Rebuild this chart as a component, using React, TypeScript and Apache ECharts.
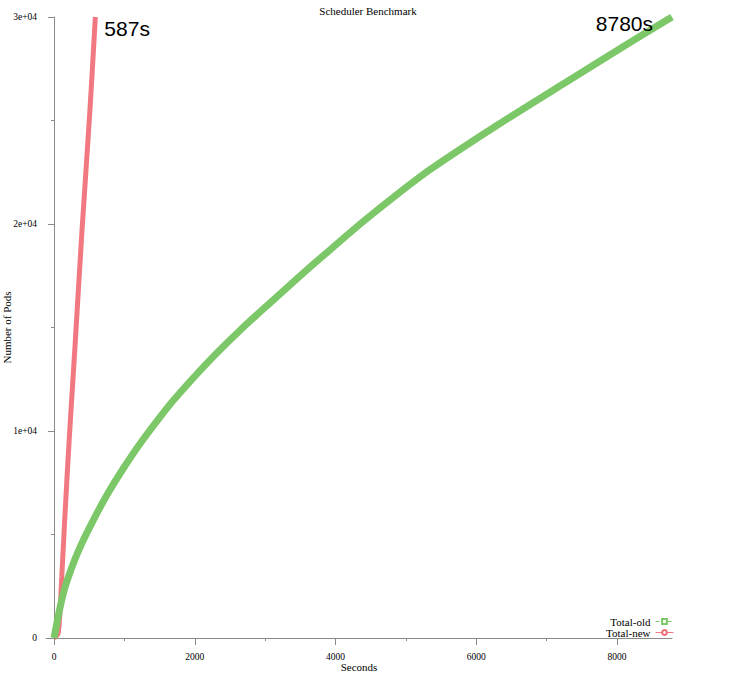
import React, { useEffect, useRef } from 'react';
import * as echarts from 'echarts';

// Total-old run (seconds, pods)
const oldSeconds = [0, 132, 275, 417, 559, 750, 986, 1224, 1500, 1700, 2171, 2648, 3122, 3597, 4024, 4403, 4900, 5352, 6302, 7250, 8199, 8780];
const oldPods = [0, 2160, 3610, 4730, 5700, 6900, 8200, 9400, 10650, 11500, 13270, 14880, 16350, 17800, 19050, 20150, 21500, 22650, 24780, 26800, 28800, 30000];

// Total-new run (seconds, pods)
const newSeconds = [0, 60, 110, 150, 214, 300, 394, 512, 587];
const newPods = [0, 250, 2950, 5600, 9500, 14200, 19500, 25600, 30000];

const xMajorTicks = [0, 2000, 4000, 6000, 8000];
const xMinorTicks = [1000, 3000, 5000, 7000];
const yMajorTicks = [0, 10000, 20000, 30000];
const yMinorTicks = [5000, 15000, 25000];

const SERIF = '"Liberation Serif", "DejaVu Serif", serif';
const SANS = '"Liberation Sans", Arial, sans-serif';
const AXIS_GREY = '#8a8a8a';

const fmtPods = (v: number) => (v === 0 ? '0' : `${v / 10000}e+04`);

const App: React.FC = () => {
  const chartRef = useRef<HTMLDivElement>(null);

  useEffect(() => {
    if (!chartRef.current) return;
    const chart = echarts.init(chartRef.current, undefined, { renderer: 'svg' });

    const oldData = oldSeconds.map((s, i) => [s, oldPods[i]]);
    const newData = newSeconds.map((s, i) => [s, newPods[i]]);
    const oldLast = oldData[oldData.length - 1];
    const newLast = newData[newData.length - 1];

    const options: echarts.EChartsOption = {
      animation: false,
      backgroundColor: '#ffffff',
      title: {
        text: 'Scheduler Benchmark',
        left: 'center',
        top: 0,
        textStyle: { fontFamily: SERIF, fontSize: 11, fontWeight: 'normal', color: '#000' }
      },
      legend: {
        orient: 'vertical',
        right: 62,
        top: 616,
        padding: 0,
        align: 'right',
        itemWidth: 18,
        itemHeight: 6,
        itemGap: 0,
        textStyle: { fontFamily: SERIF, fontSize: 11, color: '#000', lineHeight: 8 },
        lineStyle: { width: 1 },
        data: [
          { name: 'Total-old', lineStyle: { type: 'dashed', width: 1 } },
          { name: 'Total-new', lineStyle: { width: 1 } }
        ]
      },
      grid: { left: 46, right: 64, top: 17, bottom: 37, containLabel: false, outerBoundsMode: 'none' } as any,
      xAxis: [
        {
          type: 'value',
          min: -114,
          max: 8780,
          position: 'bottom',
          offset: 7,
          name: 'Seconds',
          nameLocation: 'middle',
          nameGap: 16,
          nameMoveOverlap: false,
          nameTextStyle: { fontFamily: SERIF, fontSize: 11, color: '#000' },
          axisLine: { show: true, lineStyle: { color: AXIS_GREY } },
          axisTick: { show: true, length: 7, lineStyle: { color: AXIS_GREY }, customValues: xMajorTicks } as any,
          axisLabel: {
            margin: 7,
            fontFamily: SERIF,
            fontSize: 9.5,
            color: '#000',
            customValues: xMajorTicks,
            formatter: (v: number) => String(v)
          } as any,
          splitLine: { show: false }
        } as any,
        {
          type: 'value',
          min: -114,
          max: 8780,
          position: 'bottom',
          offset: 7,
          axisLine: { show: false },
          axisTick: { show: true, length: 3, lineStyle: { color: AXIS_GREY }, customValues: xMinorTicks } as any,
          axisLabel: { show: false },
          splitLine: { show: false }
        }
      ],
      yAxis: [
        {
          type: 'value',
          min: 0,
          max: 30000,
          position: 'left',
          name: 'Number of Pods',
          nameLocation: 'middle',
          nameGap: 34,
          nameMoveOverlap: false,
          nameTextStyle: { fontFamily: SERIF, fontSize: 11, color: '#000' },
          axisLine: { show: true, lineStyle: { color: AXIS_GREY } },
          axisTick: { show: true, length: 6, lineStyle: { color: AXIS_GREY }, customValues: yMajorTicks } as any,
          axisLabel: {
            margin: 9,
            fontFamily: SERIF,
            fontSize: 9.5,
            color: '#000',
            customValues: yMajorTicks,
            formatter: (v: number) => fmtPods(v)
          } as any,
          splitLine: { show: false }
        } as any,
        {
          type: 'value',
          min: 0,
          max: 30000,
          position: 'left',
          axisLine: { show: false },
          axisTick: { show: true, length: 3, lineStyle: { color: AXIS_GREY }, customValues: yMinorTicks } as any,
          axisLabel: { show: false },
          splitLine: { show: false }
        }
      ],
      series: [
        {
          name: 'Total-new',
          type: 'line',
          data: newData,
          smooth: 0.3,
          symbol: 'emptyCircle',
          symbolSize: 4,
          showSymbol: false,
          color: '#f06873',
          lineStyle: { width: 5, color: '#f06873', opacity: 0.9 },
          markPoint: {
            symbol: 'circle',
            symbolSize: 0,
            data: [{ coord: newLast }],
            label: {
              show: true,
              position: 'right',
              distance: 9,
              offset: [0, 11],
              formatter: `${newLast[0]}s`,
              fontFamily: SANS,
              fontSize: 21,
              color: '#000'
            }
          }
        },
        {
          name: 'Total-old',
          type: 'line',
          data: oldData,
          smooth: 0.3,
          symbol: 'emptyRect',
          symbolSize: 4,
          showSymbol: false,
          color: '#7cc767',
          lineStyle: { width: 7, color: '#7cc767' },
          markPoint: {
            symbol: 'circle',
            symbolSize: 0,
            data: [{ coord: oldLast }],
            label: {
              show: true,
              position: 'left',
              distance: 19,
              offset: [0, 6],
              formatter: `${oldLast[0]}s`,
              fontFamily: SANS,
              fontSize: 21,
              color: '#000'
            }
          }
        }
      ]
    };

    chart.setOption(options);

    return () => {
      chart.dispose();
    };
  }, []);

  return (
    <div
      ref={chartRef}
      style={{ position: 'fixed', left: 0, top: 0, width: 736, height: 675 }}
    />
  );
};

export default App;
